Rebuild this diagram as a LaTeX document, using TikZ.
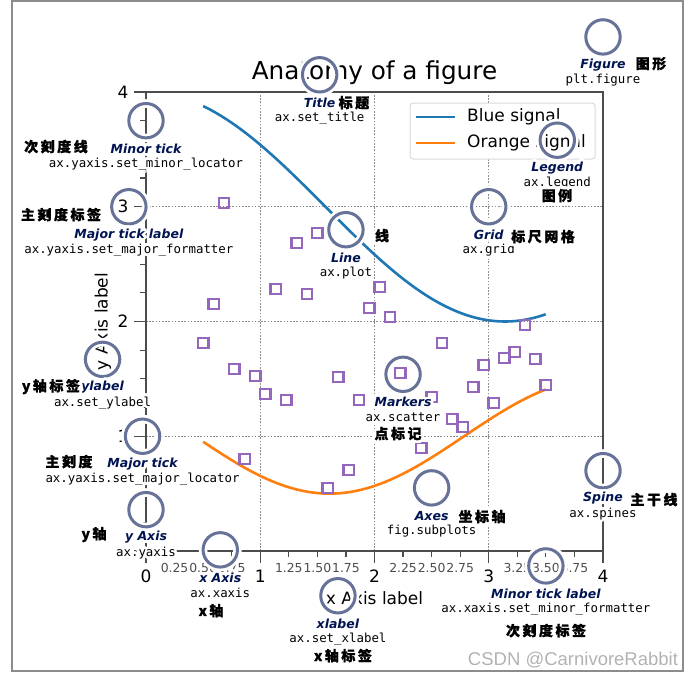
\documentclass[tikz,border=0pt]{standalone}
\usepackage{fontspec}
\setmainfont{DejaVu Sans}
\setmonofont{DejaVu Sans Mono}
\newfontfamily\cjk[LetterSpace=18, FakeBold=1]{Noto Sans CJK SC}
\newfontfamily\wmfont{Liberation Sans}
\usepackage{contour}
\contourlength{2.8pt}
\contournumber{24}
\usetikzlibrary{plotmarks}
\definecolor{royal}{rgb}{0,0.078,0.32}
\definecolor{ringc}{rgb}{0.4,0.447,0.592}
\definecolor{tabblue}{HTML}{1F77B4}
\definecolor{taborange}{HTML}{FF7F0E}
\definecolor{tabpurple}{HTML}{9467BD}
\newcommand{\halo}[1]{\contour{white}{#1}}

\begin{document}
\begin{tikzpicture}[x=1pt, y=-1pt,
    ring/.style={circle, draw=ringc, line width=3pt, minimum size=34.4pt, inner sep=0pt,
      preaction={draw=white, line width=8.5pt}},
    lbl/.style={inner sep=0pt, text=royal, font=\fontsize{12.5}{14}\selectfont\bfseries\itshape},
    code/.style={inner sep=0pt, font=\fontsize{12.4}{14}\ttfamily},
    cn/.style={inner sep=0pt, font=\fontsize{14}{16}\cjk\bfseries},
    major/.style={inner sep=0pt, font=\fontsize{17}{19}\selectfont},
    minor/.style={inner sep=0pt, text=black!70, font=\fontsize{12.4}{14}\selectfont},
    sig/.style={line width=2.6pt},
    gridline/.style={black!45, line width=0.7pt, dash pattern=on 1.6pt off 1.6pt},
    tickline/.style={black!70, line width=1.2pt}]
  \useasboundingbox (0,0) rectangle (694,677);
  \draw[black!45, line width=2pt] (12,1.5) rectangle (683,671);

  \begin{scope}[shift={(146,551)}, x=114.25pt, y=114.75pt]
    % grid and signals
    \draw[gridline] (1,0) -- (1,4) (2,0) -- (2,4) (3,0) -- (3,4)
      (0,1) -- (4,1) (0,2) -- (4,2) (0,3) -- (4,3);
    \draw[sig, tabblue] plot[domain=0.5:3.5, samples=100] (\x, {3+cos(\x r)});
    \draw[sig, taborange] plot[domain=0.5:3.5, samples=100] (\x, {1+cos((1+\x/0.75) r)/2});
    \draw[tabpurple, line width=2.4pt] plot[only marks, mark=square, mark size=5.2pt] coordinates {
      (0.500,1.813) (0.591,2.153) (0.682,3.033) (0.773,1.586) (0.864,0.802) (0.955,1.525)
      (1.045,1.368) (1.136,2.283) (1.227,1.316) (1.318,2.684) (1.409,2.240) (1.500,2.771)
      (1.591,0.549) (1.682,1.516) (1.773,0.706) (1.864,1.316) (1.955,2.118) (2.045,2.301)
      (2.136,2.039) (2.227,1.551) (2.409,0.898) (2.500,1.342) (2.591,1.813) (2.682,1.150)
      (2.773,1.081) (2.864,1.429) (2.955,1.621) (3.045,1.290) (3.136,1.682) (3.227,1.734)
      (3.318,1.970) (3.409,1.673) (3.500,1.447)};

    % ticks and spines
    \foreach \tk in {0.25,0.5,...,3.75} {
      \draw[tickline] (\tk,0) -- ++(0pt,-6pt);
      \draw[tickline] (0,\tk) -- ++(-6pt,0pt);
    }
    \foreach \tk in {0,...,4} {
      \draw[tickline] (\tk,0) -- ++(0pt,-12pt);
      \draw[tickline] (0,\tk) -- ++(-12pt,0pt);
    }
    \draw[black!70, line width=1.5pt] (0,0) rectangle (4,4);
    \foreach \tk in {0,...,4} \node[major] (tx\tk) at (\tk,-0.218) {\tk};
    \foreach \tk in {1,...,4} \node[major] (ty\tk) at (-0.2,\tk) {\tk};
    \foreach \tk [count=\i] in {0.25,0.50,0.75,1.25,1.50,1.75,2.25,2.50,2.75,3.25,3.50,3.75}
      \node[minor] (mx\i) at (\tk,-0.148) {\tk};

    \node[font=\fontsize{24.7}{28}\selectfont] (title) at (2,4.166) {Anatomy of a figure};
    \node[major] (xlab) at (2,-0.41) {x Axis label};
    \node[major, rotate=90] (ylab) at (-0.376,2) {y Axis label};

    % legend
    \draw[black!15, fill=white, line width=1pt, rounded corners=3pt] (2.311,3.416) rectangle (3.930,3.904);
    \draw[sig, tabblue] (2.363,3.782) -- (2.705,3.782);
    \draw[sig, taborange] (2.363,3.556) -- (2.705,3.556);
    \node[major, anchor=west] (lgb) at (2.81,3.782) {Blue signal};
    \node[major, anchor=west] (lgo) at (2.81,3.556) {Orange signal};

    % rings
    \node[ring] (cfig) at (4,4.48) {};
    \node[ring] (ctitle) at (1.52,4.15) {};
    \node[ring] (cline) at (1.75,2.80) {};
    \node[ring] (cmark) at (2.25,1.54) {};
    \node[ring] (cgrid) at (3,3) {};
    \node[ring] (cleg) at (3.6,3.58) {};
    \node[ring] (caxes) at (2.5,0.55) {};
    \node[ring] (cxax) at (0.65,0.01) {};
    \node[ring] (cyax) at (0,0.36) {};
    \node[ring] (cspine) at (4,0.70) {};
    \node[ring] (cminlab) at (3.5,-0.13) {};
    \node[ring] (cmajtick) at (-0.03,1) {};
    \node[ring] (cmintick) at (0,3.75) {};
    \node[ring] (cmajlab) at (-0.15,3) {};
    \node[ring] (cxlab) at (1.68,-0.39) {};
    \node[ring] (cylab) at (-0.38,1.67) {};

    % names
    \node[lbl] (lfig) at (4,4.225) {\halo{Figure}};
    \node[lbl] (ltitle) at (1.52,3.895) {\halo{Title}};
    \node[lbl] (lline) at (1.75,2.545) {\halo{Line}};
    \node[lbl] (lmark) at (2.25,1.285) {\halo{Markers}};
    \node[lbl] (lgrid) at (3,2.745) {\halo{Grid}};
    \node[lbl] (lleg) at (3.6,3.325) {\halo{Legend}};
    \node[lbl] (laxes) at (2.5,0.295) {\halo{Axes}};
    \node[lbl] (lxax) at (0.65,-0.245) {\halo{x Axis}};
    \node[lbl] (lyax) at (0,0.105) {\halo{y Axis}};
    \node[lbl] (lspine) at (4,0.445) {\halo{Spine}};
    \node[lbl] (lminlab) at (3.5,-0.385) {\halo{Minor tick label}};
    \node[lbl] (lmajtick) at (-0.03,0.745) {\halo{Major tick}};
    \node[lbl] (lmintick) at (0,3.495) {\halo{Minor tick}};
    \node[lbl] (lmajlab) at (-0.15,2.745) {\halo{Major tick label}};
    \node[lbl] (lxlab) at (1.68,-0.645) {\halo{xlabel}};
    \node[lbl] (lylab) at (-0.38,1.415) {\halo{ylabel}};

    % code
    \node[code] (kfig) at (4,4.09) {\halo{plt.figure}};
    \node[code] (ktitle) at (1.52,3.76) {\halo{ax.set\_title}};
    \node[code] (kline) at (1.75,2.41) {\halo{ax.plot}};
    \node[code] (kmark) at (2.25,1.15) {\halo{ax.scatter}};
    \node[code] (kgrid) at (3,2.61) {\halo{ax.grid}};
    \node[code] (kleg) at (3.6,3.19) {\halo{ax.legend}};
    \node[code] (kaxes) at (2.5,0.16) {\halo{fig.subplots}};
    \node[code] (kxax) at (0.65,-0.38) {\halo{ax.xaxis}};
    \node[code] (kyax) at (0,-0.03) {\halo{ax.yaxis}};
    \node[code] (kspine) at (4,0.31) {\halo{ax.spines}};
    \node[code] (kminlab) at (3.5,-0.52) {\halo{ax.xaxis.set\_minor\_formatter}};
    \node[code] (kmajtick) at (-0.03,0.61) {\halo{ax.yaxis.set\_major\_locator}};
    \node[code] (kmintick) at (0,3.36) {\halo{ax.yaxis.set\_minor\_locator}};
    \node[code] (kmajlab) at (-0.15,2.61) {\halo{ax.yaxis.set\_major\_formatter}};
    \node[code] (kxlab) at (1.68,-0.78) {\halo{ax.set\_xlabel}};
    \node[code] (kylab) at (-0.38,1.28) {\halo{ax.set\_ylabel}};

    % chinese notes
    \node[cn] (zfig) at (4.42,4.235) {\halo{图形}};
    \node[cn] (ztitle) at (1.82,3.895) {\halo{标题}};
    \node[cn] (zleg) at (3.597,3.085) {\halo{图例}};
    \node[cn] (zmintick) at (-0.788,3.512) {\halo{次刻度线}};
    \node[cn] (zmajlab) at (-0.744,2.919) {\halo{主刻度标签}};
    \node[cn] (zline) at (2.066,2.736) {\halo{线}};
    \node[cn] (zgrid) at (3.475,2.728) {\halo{标尺网格}};
    \node[cn] (zylab) at (-0.832,1.42) {\halo{y轴标签}};
    \node[cn] (zmark) at (2.206,1.011) {\halo{点标记}};
    \node[cn] (zmajtick) at (-0.674,0.767) {\halo{主刻度}};
    \node[cn] (zyax) at (-0.455,0.131) {\halo{y轴}};
    \node[cn] (zxax) at (0.569,-0.532) {\halo{x轴}};
    \node[cn] (zxlab) at (1.724,-0.924) {\halo{x轴标签}};
    \node[cn] (zaxes) at (2.941,0.288) {\halo{坐标轴}};
    \node[cn] (zspine) at (4.446,0.436) {\halo{主干线}};
    \node[cn] (zminlab) at (3.501,-0.706) {\halo{次刻度标签}};
  \end{scope}

  \node[text=black!30, font=\fontsize{18.5}{20}\wmfont] (mark) at (573,660) {CSDN @CarnivoreRabbit};
\end{tikzpicture}
\end{document}
